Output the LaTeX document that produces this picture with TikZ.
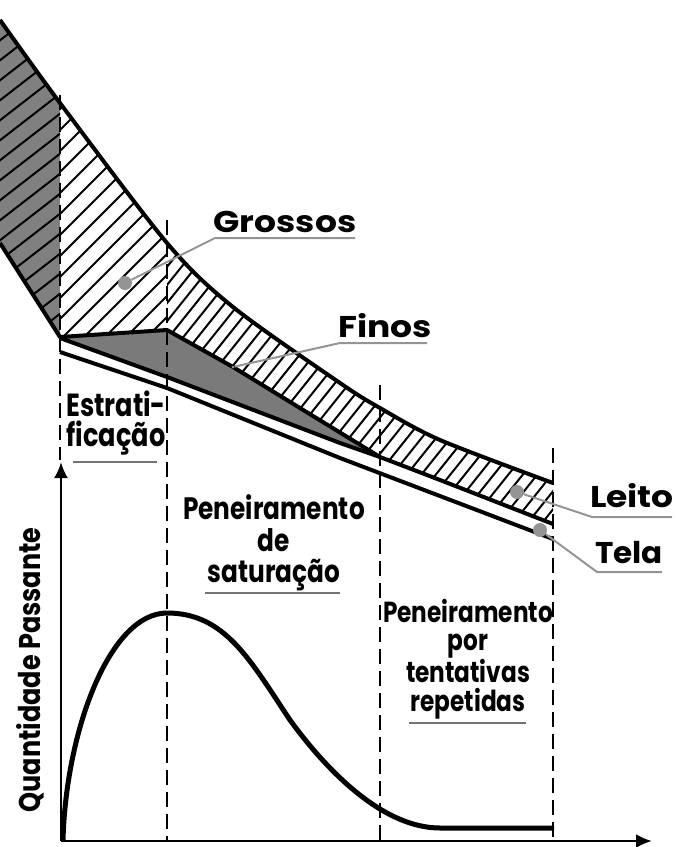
\documentclass[tikz,border=0pt]{standalone}
\usepackage{fontspec}
\setmainfont{Poppins}
\usetikzlibrary{arrows.meta, positioning}
\tikzset{
    wall/.style={line width=4pt, line join=round},
    hatchline/.style={line width=2pt},
    guide/.style={line width=1.8pt, dash pattern=on 15pt off 7pt},
    axisline/.style={line width=2.6pt, -{Latex[length=16pt,width=14pt]}},
    leader/.style={draw=black!42, line width=2pt},
    blob/.style={circle, fill=black!42, minimum size=14pt, inner sep=0pt},
    biglabel/.style={font=\bfseries\fontsize{30}{30}\selectfont, inner sep=0pt, anchor=base, xscale=1.15},
    slimlabel/.style={font=\bfseries\fontsize{31}{31.5}\selectfont, inner sep=0pt, align=center, xscale=0.8},
    underline/.style={draw=black!55, line width=1.4pt},
}
\newcommand{\topcurve}{(0,20) (60,103) (167,243) (233,307) (340,383) (380,408) (440,440) (553,483)}
\begin{document}
\begin{tikzpicture}[x=1pt, y=-1pt]
    \useasboundingbox (0,0) rectangle (676,847);
    \begin{scope}
        \clip plot[smooth] coordinates {\topcurve} -- (553,524) -- (440,480) -- (380,457) -- (233,367) -- (167,330) -- (60,337) -- (0,243) -- cycle;
        \fill[black!50] (0,0) rectangle (60,350);
        \begin{scope}
            \clip (0,0) rectangle (60,350);
            \foreach \i in {0,...,19} {
                \draw[hatchline] (-10,28+20*\i) -- (70,-34+20*\i);
            }
        \end{scope}
        \begin{scope}
            \clip (60,0) rectangle (167,350);
            \foreach \i in {-14,...,6} {
                \draw[hatchline] (60+21*\i,340) -- (360+21*\i,40);
            }
        \end{scope}
        \begin{scope}
            \clip (167,0) rectangle (553,560);
            \foreach \i in {-16,...,30} {
                \draw[hatchline] (150+14.5*\i,560) -- (550+14.5*\i,60);
            }
        \end{scope}
    \end{scope}
    \fill[black!52] (60,338) -- (167,330) -- (233,367) -- (380,457) -- (340,443) -- (167,377) -- cycle;
    \draw[wall] plot[smooth] coordinates {\topcurve};
    \draw[wall] (0,243) -- (60,337) -- (167,330) -- (233,367) -- (380,457) -- (440,480) -- (553,524);
    \draw[wall] (60,338) -- (167,377) -- (340,443) -- (380,457);
    \draw[wall] (60,352) -- (167,388) -- (340,458) -- (553,539);

    \coordinate (topa) at (60,95);
    \coordinate (topb) at (167,220);
    \coordinate (topc) at (380,385);
    \coordinate (topd) at (553,448);
    \coordinate (basea) at (60,460);
    \coordinate (baseb) at (167,840);
    \coordinate (basec) at (380,840);
    \coordinate (based) at (553,840);
    \draw[guide] (topa) -- (basea);
    \draw[guide] (topb) -- (baseb);
    \draw[guide] (topc) -- (basec);
    \draw[guide] (topd) -- (based);

    \coordinate (origin) at (61,841);
    \coordinate (ytip) at (61,462);
    \coordinate (xtip) at (652,841);
    \draw[axisline] (origin) -- (ytip);
    \draw[axisline] (origin) -- (xtip);
    \draw[line width=5pt] (63,840) .. controls (66,730) and (110,613) .. (167,613) .. controls (225,613) and (250,660) .. (290,720) .. controls (330,775) and (385,828) .. (440,828) -- (554,828);

    \node[biglabel] (grossos) at (285,232) {Grossos};
    \node[biglabel] (finos) at (385,337) {Finos};
    \node[biglabel] (leito) at (632,507) {Leito};
    \node[biglabel, xscale=0.9] (tela) at (629,563) {Tela};
    \node[blob] (grossosdot) at (125,283) {};
    \node[blob, minimum size=3pt] (finosdot) at (233,367) {};
    \node[blob] (leitodot) at (517,492) {};
    \node[blob] (teladot) at (540,530) {};
    \coordinate (grossosa) at (215,238);
    \coordinate (grossosb) at (355,238);
    \coordinate (finosa) at (340,343);
    \coordinate (finosb) at (427,343);
    \coordinate (leitoa) at (592,517);
    \coordinate (leitob) at (672,517);
    \coordinate (telaa) at (597,572);
    \coordinate (telab) at (662,572);
    \draw[leader] (grossosb) -- (grossosa) -- (grossosdot);
    \draw[leader] (finosb) -- (finosa) -- (finosdot);
    \draw[leader] (leitob) -- (leitoa) -- (leitodot);
    \draw[leader] (telab) -- (telaa) -- (teladot);

    \node[slimlabel, font=\bfseries\fontsize{32}{30}\selectfont] (estrat) at (116,423) {Estrati-\\ficação};
    \node[slimlabel] (saturacao) at (274,543) {Peneiramento\\de\\saturação};
    \node[slimlabel, font=\bfseries\fontsize{29}{28.5}\selectfont] (tentativas) at (468,659) {Peneiramento\\por\\tentativas\\repetidas};
    \node[font=\bfseries\fontsize{30}{30}\selectfont, inner sep=0pt, rotate=90, xscale=0.85] (quantidade) at (30,670) {Quantidade Passante};
    \draw[underline] (73,462) -- (157,462);
    \draw[underline] (205,593) -- (340,593);
    \draw[underline] (409,723) -- (526,723);
\end{tikzpicture}
\end{document}
